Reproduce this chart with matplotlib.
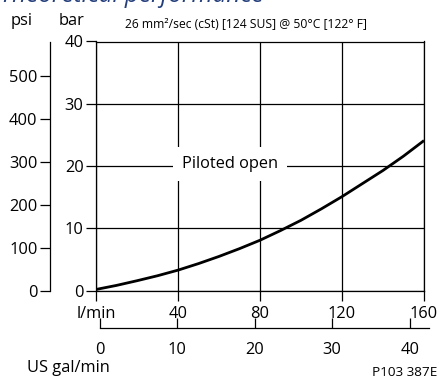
#
# Theoretical performance: pressure drop vs flow, piloted open
#

import matplotlib
matplotlib.use("Agg")
import matplotlib.pyplot as plt

plt.rcParams['font.family'] = ['Open Sans', 'DejaVu Sans']

# data
flow_lpm = [0, 10, 20, 30, 40, 50, 60, 70, 80, 90, 100, 110, 120, 130, 140, 150, 160]
dp_bar = [0.2, 0.85, 1.6, 2.4, 3.3, 4.35, 5.5, 6.75, 8.1, 9.65, 11.3, 13.15, 15.1,
          17.2, 19.3, 21.6, 24.1]

lpm_ticks = [0, 40, 80, 120, 160]
lpm_labels = ["l/min", "40", "80", "120", "160"]
bar_ticks = [0, 10, 20, 30, 40]
psi_ticks = [0, 100, 200, 300, 400, 500]
gal_ticks = [0, 10, 20, 30, 40]

BAR_TO_PSI = 14.5038
FS = 11.8

fig = plt.figure(figsize=(4.41, 3.82), dpi=100)

# main chart (bar vs l/min)
ax = fig.add_axes([96/441, 1 - 290.7/382, 328/441, 249.2/382])
ax.plot(flow_lpm, dp_bar, color="black", lw=2.0, solid_capstyle="butt")
ax.set_xlim(0, 160)
ax.set_ylim(0, 40)
ax.set_xticks(lpm_ticks)
ax.set_xticklabels(lpm_labels)
ax.set_yticks(bar_ticks)
ax.grid(True, color="black", lw=0.9)
for s in ax.spines.values():
    s.set_linewidth(0.9)
ax.tick_params(length=7, width=0.9, labelsize=FS, pad=2)
ax.tick_params(axis="x", pad=4)
ax.text(65.5, 20.4, "Piloted open", ha="center", va="center", fontsize=FS,
        bbox=dict(boxstyle="square,pad=0.55", fc="white", ec="none"))

# psi axis
axp = fig.add_axes([50/441, 1 - 290.7/382, 0.001, 249.2/382])
axp.set_ylim(0, 40 * BAR_TO_PSI)
axp.set_yticks(psi_ticks)
axp.set_xticks([])
for k in ["top", "right", "bottom"]:
    axp.spines[k].set_visible(False)
axp.spines["left"].set_linewidth(0.9)
axp.spines["left"].set_bounds(0, 40 * BAR_TO_PSI - 2)
axp.tick_params(length=7, width=0.9, labelsize=FS, pad=2)
axp.patch.set_visible(False)

# US gal/min axis
gal_max = 42.5
axg = fig.add_axes([100/441, 1 - 328/382, 329/441, 0.001])
axg.set_xlim(0, gal_max)
axg.set_xticks(gal_ticks)
axg.set_yticks([])
for k in ["top", "right", "left"]:
    axg.spines[k].set_visible(False)
axg.spines["bottom"].set_linewidth(0.9)
axg.tick_params(axis="x", direction="in", length=7, width=0.9, labelsize=FS, pad=10)
axg.patch.set_visible(False)

# labels
fig.text(0/441, 1 - 2/382, "Theoretical performance", fontsize=17.5, style="italic",
         color="#253f7c", ha="left", va="baseline")
fig.text(22/441, 1 - 21/382, "psi", fontsize=FS, ha="center", va="center")
fig.text(72/441, 1 - 21/382, "bar", fontsize=FS, ha="center", va="center")
fig.text(246/441, 1 - 25/382, "26 mm²/sec (cSt) [124 SUS] @ 50°C [122° F]",
         fontsize=8.7, ha="center", va="center")
fig.text(27/441, 1 - 368/382, "US gal/min", fontsize=FS, ha="left", va="center")
fig.text(437/441, 1 - 372/382, "P103 387E", fontsize=9.7, ha="right", va="center")

fig.savefig("out.png", dpi=100)
